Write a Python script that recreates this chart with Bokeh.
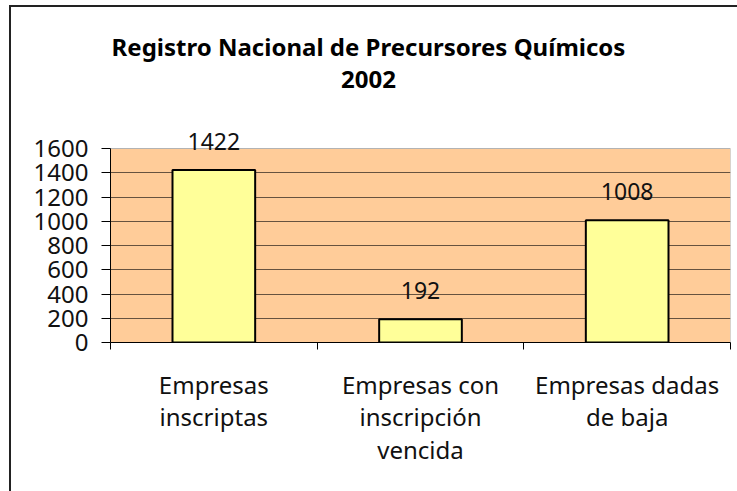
from bokeh.plotting import figure
from bokeh.models import Range1d, FixedTicker, LabelSet, ColumnDataSource, Label
from bokeh.core.properties import value
from bokeh.embed import file_html
from bokeh.resources import INLINE

categories = ["Empresas\ninscriptas", "Empresas con\ninscripción\nvencida", "Empresas dadas\nde baja"]
values = [1422, 192, 1008]
y_ticks = [0, 200, 400, 600, 800, 1000, 1200, 1400, 1600]
title_line1 = "Registro Nacional de Precursores Químicos"
title_line2 = "2002"

FONT = "Noto Sans"

# layout (pixels)
FRAME_W, FRAME_H = 620, 335
AXIS_PX = 194            # pixel height of the 0..max value area
FRAME_LEFT_PAGE, FRAME_BOTTOM_PAGE = 110, 342

positions = [i + 0.5 for i in range(len(categories))]
boundaries = list(range(len(categories) + 1))
y_max = y_ticks[-1]
y_end = y_max * FRAME_H / AXIS_PX


def dx(page_x):
    return (page_x - FRAME_LEFT_PAGE) * len(categories) / FRAME_W


def dy(page_y):
    return (FRAME_BOTTOM_PAGE - page_y) * y_max / AXIS_PX


source = ColumnDataSource(data=dict(x=positions, top=values, label=[str(v) for v in values]))

p = figure(frame_width=FRAME_W, frame_height=FRAME_H,
           x_range=Range1d(0, len(categories)), y_range=Range1d(0, y_end),
           output_backend="svg", toolbar_location=None, title_location=None,
           min_border_left=99, min_border_right=7, min_border_top=0, min_border_bottom=149)

p.styles = {"border-left": "2px solid #222", "border-top": "2px solid #222",
            "margin-left": "9px", "margin-top": "5px"}

p.background_fill_color = "white"
p.border_fill_color = "white"
p.outline_line_color = None

# plot-area background
p.quad(left=0, right=len(categories), bottom=0, top=y_max, fill_color="#FFCC99",
       line_color="#b3b3b3", line_width=1, level="image")

p.vbar(x="x", top="top", width=0.4, source=source, fill_color="#FFFF99",
       line_color="black", line_width=2)

labels = LabelSet(x="x", y="top", text="label", source=source, y_offset=20,
                  text_align="center", text_baseline="alphabetic",
                  text_font=value(FONT), text_font_size=value("23px"), text_color=value("#111"))
p.add_layout(labels)

# title
for txt, py in [(title_line1, 46), (title_line2, 79)]:
    p.add_layout(Label(x=dx(368), y=dy(py), text=txt, text_align="center",
                       text_baseline="alphabetic", text_font=FONT, text_font_size="24px",
                       text_font_style="bold", text_color="black"))

# grid
p.xgrid.visible = False
p.ygrid.ticker = FixedTicker(ticks=y_ticks[1:-1])
p.ygrid.grid_line_color = "#66523f"
p.ygrid.grid_line_width = 1

# y axis
p.yaxis.ticker = FixedTicker(ticks=y_ticks)
p.yaxis.bounds = (0, y_max)
p.yaxis.major_label_text_font = FONT
p.yaxis.major_label_text_font_size = "24px"
p.yaxis.major_label_text_color = "#111"
p.yaxis.major_tick_out = 9
p.yaxis.major_tick_in = 0
p.yaxis.minor_tick_line_color = None
p.yaxis.axis_line_color = "black"
p.yaxis.major_tick_line_color = "black"
p.yaxis.major_label_standoff = 13

# x axis
p.xaxis.ticker = FixedTicker(ticks=positions, minor_ticks=boundaries)
p.xaxis.major_label_overrides = {pos: cat for pos, cat in zip(positions, categories)}
p.xaxis.major_tick_line_color = None
p.xaxis.major_tick_out = 0
p.xaxis.major_tick_in = 0
p.xaxis.minor_tick_out = 7
p.xaxis.minor_tick_in = 0
p.xaxis.minor_tick_line_color = "black"
p.xaxis.axis_line_color = "black"
p.xaxis.major_label_text_font = FONT
p.xaxis.major_label_text_font_size = "24px"
p.xaxis.major_label_text_color = "#111"
p.xaxis.major_label_text_line_height = 0.99
p.xaxis.major_label_standoff = 18

open("out.html", "w").write(file_html(p, INLINE))
